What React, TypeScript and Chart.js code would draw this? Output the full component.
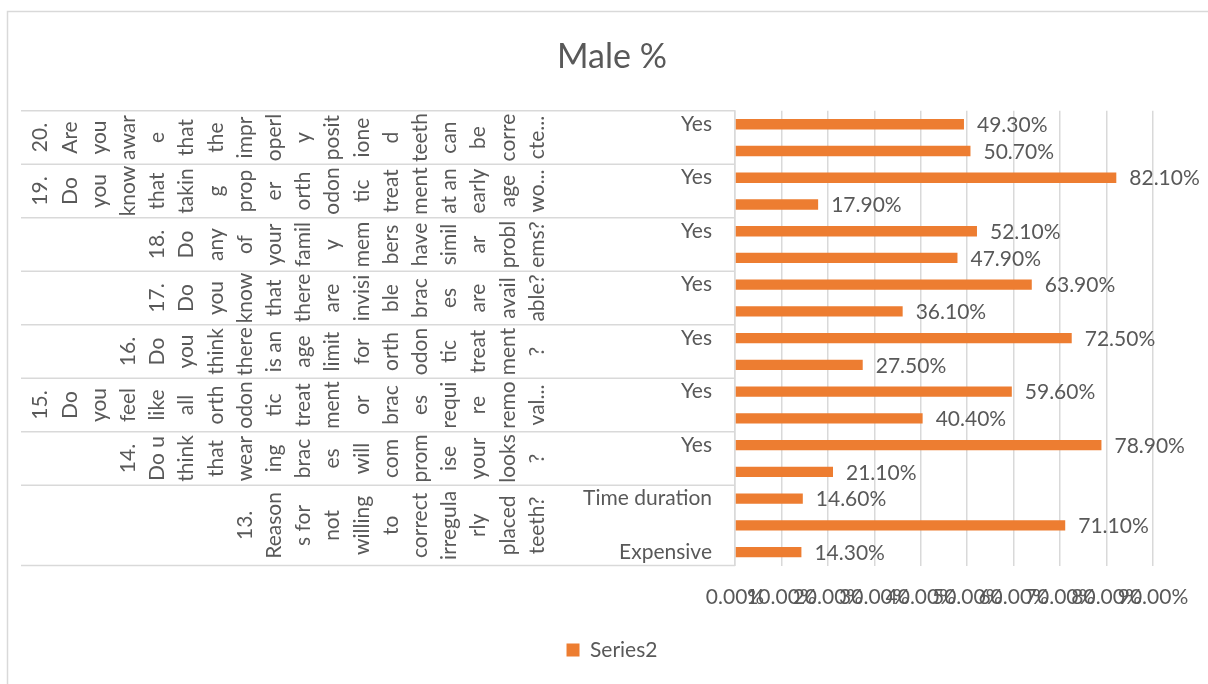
import React, { useEffect, useRef } from 'react';
import { Chart, registerables } from 'chart.js';

Chart.register(...registerables);

const chartTitle = 'Male %';
const seriesName = 'Series2';

// inner category labels, top to bottom
const categoryLabels = [
  'Yes', '',
  'Yes', '',
  'Yes', '',
  'Yes', '',
  'Yes', '',
  'Yes', '',
  'Yes', '',
  'Time duration', '', 'Expensive',
];

// bar values (%), top to bottom
const values = [49.3, 50.7, 82.1, 17.9, 52.1, 47.9, 63.9, 36.1, 72.5, 27.5, 59.6, 40.4, 78.9, 21.1, 14.6, 71.1, 14.3];

// number of inner categories in each outer group, top to bottom
const groupSizes = [2, 2, 2, 2, 2, 2, 2, 3];

// outer group labels, as wrapped lines
const groupLabelLines = [
  ['20.', 'Are', 'you', 'awar', 'e', 'that', 'the', 'impr', 'operl', 'y', 'posit', 'ione', 'd', 'teeth', 'can', 'be', 'corre', 'cte...'],
  ['19.', 'Do', 'you', 'know', 'that', 'takin', 'g', 'prop', 'er', 'orth', 'odon', 'tic', 'treat', 'ment', 'at an', 'early', 'age', 'wo...'],
  ['18.', 'Do', 'any', 'of', 'your', 'famil', 'y', 'mem', 'bers', 'have', 'simil', 'ar', 'probl', 'ems?'],
  ['17.', 'Do', 'you', 'know', 'that', 'there', 'are', 'invisi', 'ble', 'brac', 'es', 'are', 'avail', 'able?'],
  ['16.', 'Do', 'you', 'think', 'there', 'is an', 'age', 'limit', 'for', 'orth', 'odon', 'tic', 'treat', 'ment', '?'],
  ['15.', 'Do', 'you', 'feel', 'like', 'all', 'orth', 'odon', 'tic', 'treat', 'ment', 'or', 'brac', 'es', 'requi', 're', 'remo', 'val...'],
  ['14.', 'Do u', 'think', 'that', 'wear', 'ing', 'brac', 'es', 'will', 'com', 'prom', 'ise', 'your', 'looks', '?'],
  ['13.', 'Reason', 's for', 'not', 'willing', 'to', 'correct', 'irregula', 'rly', 'placed', 'teeth?'],
];

const xTickValues = [0, 10, 20, 30, 40, 50, 60, 70, 80, 90];

const TEXT = '#595959';
const LINE = '#D9D9D9';
const BAR = '#ED7D31';
const FONT = 'Lato';
const FS = 21;

const decorPlugin = {
  id: 'decor',
  beforeDraw(chart: any) {
    const ctx = chart.ctx;
    ctx.save();
    ctx.strokeStyle = LINE;
    ctx.lineWidth = 1.5;
    ctx.strokeRect(7.5, 11.5, 1400, 1000);
    ctx.restore();
  },
  afterDraw(chart: any) {
    const ctx = chart.ctx;
    const y = chart.scales.y;
    const area = chart.chartArea;
    const n = categoryLabels.length;
    const boundary = (i: number) => {
      if (i <= 0) return area.top;
      if (i >= n) return area.bottom;
      return (y.getPixelForValue(i - 1) + y.getPixelForValue(i)) / 2;
    };
    ctx.save();
    ctx.strokeStyle = LINE;
    ctx.lineWidth = 1.5;
    let idx = 0;
    const bounds: number[] = [boundary(0)];
    groupSizes.forEach((s) => {
      idx += s;
      bounds.push(boundary(idx));
    });
    bounds.forEach((b) => {
      ctx.beginPath();
      ctx.moveTo(21, b);
      ctx.lineTo(area.left, b);
      ctx.stroke();
    });
    // outer labels
    ctx.fillStyle = TEXT;
    ctx.font = `${FS}px ${FONT}`;
    ctx.textAlign = 'center';
    ctx.textBaseline = 'middle';
    const lastCol = area.left - 198;
    const spacing = 29.2;
    groupLabelLines.forEach((lines, g) => {
      const cy = (bounds[g] + bounds[g + 1]) / 2;
      const m = lines.length;
      lines.forEach((line, k) => {
        const x = lastCol - (m - 1 - k) * spacing;
        ctx.save();
        ctx.translate(x, cy);
        ctx.rotate(-Math.PI / 2);
        ctx.fillText(line, 0, 0);
        ctx.restore();
      });
    });
    ctx.restore();
  },
  afterDatasetsDraw(chart: any) {
    const ctx = chart.ctx;
    const meta = chart.getDatasetMeta(0);
    ctx.save();
    ctx.fillStyle = TEXT;
    ctx.font = `${FS}px ${FONT}`;
    ctx.textAlign = 'left';
    ctx.textBaseline = 'middle';
    meta.data.forEach((bar: any, i: number) => {
      ctx.fillText(values[i].toFixed(2) + '%', bar.x + 13, bar.y + 1);
    });
    ctx.restore();
  },
};

export default function App() {
  const ref = useRef<HTMLCanvasElement | null>(null);
  useEffect(() => {
    if (!ref.current) return;
    Chart.defaults.font.family = FONT;
    const chart = new Chart(ref.current, {
      type: 'bar',
      data: {
        labels: categoryLabels,
        datasets: [
          {
            label: seriesName,
            data: values,
            backgroundColor: BAR,
            borderWidth: 0,
            barPercentage: 0.39,
            categoryPercentage: 1,
          },
        ],
      },
      options: {
        indexAxis: 'y',
        responsive: false,
        animation: false,
        layout: { padding: { left: 71, right: 55, top: 0, bottom: 13.5 } },
        plugins: {
          title: {
            display: true,
            text: chartTitle,
            color: TEXT,
            font: { size: 34, weight: 'normal', family: FONT },
            padding: { top: 37, bottom: 33 },
          },
          legend: {
            display: true,
            position: 'bottom',
            labels: {
              color: TEXT,
              font: { size: FS, family: FONT },
              boxWidth: 13,
              boxHeight: 13,
              padding: 10,
            },
          },
          tooltip: { enabled: false },
        },
        scales: {
          x: {
            min: 0,
            max: 90,
            afterBuildTicks: (s: any) => {
              s.ticks = xTickValues.map((v) => ({ value: v }));
            },
            afterFit: (s: any) => {
              s.height = 64;
            },
            ticks: {
              autoSkip: false,
              maxRotation: 0,
              minRotation: 0,
              padding: 19,
              color: TEXT,
              font: { size: FS, family: FONT },
              callback: (v: any) => Number(v).toFixed(2) + '%',
            },
            grid: { color: LINE, lineWidth: 1.5, drawTicks: false },
            border: { display: false },
          },
          y: {
            afterFit: (s: any) => {
              s.width = 664;
            },
            ticks: {
              autoSkip: false,
              padding: 23,
              color: TEXT,
              font: { size: FS, family: FONT },
            },
            grid: { display: false, drawTicks: false },
            border: { display: true, color: LINE, width: 1.5 },
          },
        },
      },
      plugins: [decorPlugin],
    } as any);
    return () => chart.destroy();
  }, []);
  return (
    <div style={{ position: 'fixed', left: 0, top: 0, width: 1208, height: 684, background: '#fff' }}>
      <canvas ref={ref} width={1208} height={684} />
    </div>
  );
}
